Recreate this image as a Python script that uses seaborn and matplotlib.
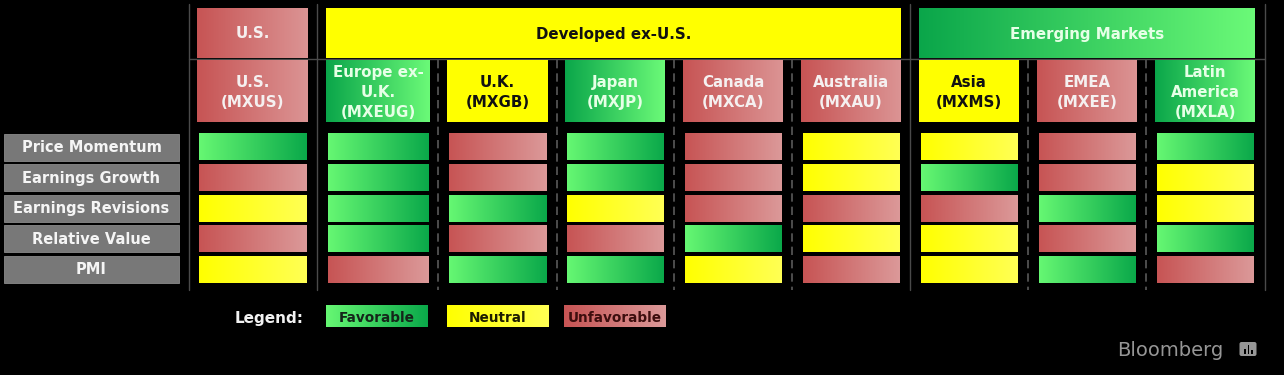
import numpy as np
import matplotlib
matplotlib.use("Agg")
import matplotlib.pyplot as plt
from matplotlib.patches import Rectangle, FancyBboxPatch
import seaborn as sns

# ---------------- data ----------------
groups = ["U.S.", "Developed ex-U.S.", "Emerging Markets"]
group_ratings = ["Unfavorable", "Neutral", "Favorable"]
markets = ["U.S.\n(MXUS)", "Europe ex-\nU.K.\n(MXEUG)", "U.K.\n(MXGB)", "Japan\n(MXJP)",
           "Canada\n(MXCA)", "Australia\n(MXAU)", "Asia\n(MXMS)", "EMEA\n(MXEE)",
           "Latin\nAmerica\n(MXLA)"]
market_group = [0, 1, 1, 1, 1, 1, 2, 2, 2]
market_ratings = ["Unfavorable", "Favorable", "Neutral", "Favorable", "Unfavorable",
                  "Unfavorable", "Neutral", "Unfavorable", "Favorable"]
factors = ["Price Momentum", "Earnings Growth", "Earnings Revisions", "Relative Value", "PMI"]
# F = Favorable, N = Neutral, U = Unfavorable ; one string per factor, one letter per market
price_momentum     = ["F", "F", "U", "F", "U", "N", "N", "U", "F"]
earnings_growth    = ["U", "F", "U", "F", "U", "N", "F", "U", "N"]
earnings_revisions = ["N", "F", "F", "N", "U", "U", "U", "F", "N"]
relative_value     = ["U", "F", "U", "U", "F", "N", "N", "U", "F"]
pmi                = ["N", "U", "F", "F", "N", "U", "N", "F", "U"]
legend_labels = ["Favorable", "Neutral", "Unfavorable"]

code_map = {"F": "Favorable", "N": "Neutral", "U": "Unfavorable"}
grid = [[code_map[c] for c in row] for row in
        [price_momentum, earnings_growth, earnings_revisions, relative_value, pmi]]

# ---------------- style ----------------
sns.set_theme(style="dark", rc={"axes.facecolor": "black", "figure.facecolor": "black"})
plt.rcParams["font.family"] = ["DejaVu Sans"]

W, H = 1284, 375
fig = plt.figure(figsize=(W / 100, H / 100), dpi=100)
ax = fig.add_axes([0, 0, 1, 1])
ax.set_facecolor("black")

# gradient endpoints (left, right)
body_grad = {
    "Favorable": ((0.40, 0.97, 0.45), (0.04, 0.66, 0.29)),
    "Neutral": ((1.0, 1.0, 0.0), (1.0, 1.0, 0.33)),
    "Unfavorable": ((0.78, 0.33, 0.33), (0.86, 0.60, 0.60)),
}
head_grad = {
    "Favorable": ((0.04, 0.65, 0.29), (0.42, 0.98, 0.47)),
    "Neutral": ((1.0, 1.0, 0.0), (1.0, 1.0, 0.0)),
    "Unfavorable": ((0.78, 0.33, 0.33), (0.86, 0.58, 0.58)),
}
head_text = {"Favorable": "#e6ffe6", "Neutral": "#111111", "Unfavorable": "#f5f0f0"}
legend_text = {"Favorable": "#15261a", "Neutral": "#1c1c00", "Unfavorable": "#3d0e0e"}


def grad_box(x0, x1, y0, y1, cols, z=2):
    n = 256
    t = np.linspace(0, 1, n)[None, :, None]
    a = np.array(cols[0])[None, None, :]
    b = np.array(cols[1])[None, None, :]
    img = a * (1 - t) + b * t
    img = np.repeat(img, 2, axis=0)
    ax.imshow(img, extent=(x0, x1, y1, y0), aspect="auto", interpolation="bilinear", zorder=z)


# ---------------- layout ----------------
col_left = [199, 328, 449, 567, 685, 803, 921, 1039, 1157]
col_right = [307, 429, 547, 664, 782, 900, 1018, 1136, 1254]
row_top0, row_pitch, row_h = 133.5, 30.6, 27
hdr1 = (8, 58)
hdr2 = (60, 122)

# separators
for x in [189, 317, 910, 1265]:
    ax.plot([x, x], [4, 290], color="#4a4a4a", lw=1.0, zorder=1)
for x in [438, 557, 674, 792, 1028, 1146]:
    ax.plot([x, x], [60, 290], color="#5a5a5a", lw=1.2, ls=(0, (5, 3)), zorder=1)
ax.plot([189, 1265], [59, 59], color="#4a4a4a", lw=1.0, zorder=1)

# group headers
for g, (name, rating) in enumerate(zip(groups, group_ratings)):
    members = [i for i, mg in enumerate(market_group) if mg == g]
    x0 = col_left[members[0]] - 2
    x1 = col_right[members[-1]] + 1
    grad_box(x0, x1, hdr1[0], hdr1[1], head_grad[rating])
    ax.text((x0 + x1) / 2, (hdr1[0] + hdr1[1]) / 2 + 1, name, ha="center", va="center",
            fontsize=10.8, fontweight="bold", color=head_text[rating], zorder=3)

# market headers
for i, (name, rating) in enumerate(zip(markets, market_ratings)):
    x0 = col_left[i] - 2
    x1 = col_right[i] + 1
    grad_box(x0, x1, hdr2[0], hdr2[1], head_grad[rating])
    ax.text((x0 + x1) / 2, (hdr2[0] + hdr2[1]) / 2 + 1.5, name, ha="center", va="center",
            fontsize=10.8, fontweight="bold", color=head_text[rating], linespacing=1.38,
            zorder=3)

# factor labels and body cells
for r, fac in enumerate(factors):
    y0 = row_top0 + r * row_pitch
    y1 = y0 + row_h
    ax.add_patch(Rectangle((4, y0), 175, row_h, facecolor="#787878", edgecolor="#8a8a8a",
                           lw=0.6, zorder=2))
    ax.text(91.5, (y0 + y1) / 2 + 0.5, fac, ha="center", va="center", fontsize=10.5,
            fontweight="bold", color="#f5f5f5", zorder=3)
    for c in range(len(markets)):
        grad_box(col_left[c], col_right[c], y0, y1, body_grad[grid[r][c]])

# legend
ax.text(269, 318, "Legend:", ha="center", va="center", fontsize=11, fontweight="bold",
        color="#f2f2f2", zorder=3)
leg_left = [326, 447, 564]
for lbl, lx in zip(legend_labels, leg_left):
    grad_box(lx, lx + 102, 306, 327.5, body_grad[lbl])
    ax.text(lx + 51, 317.5, lbl, ha="center", va="center", fontsize=9.8, fontweight="bold",
            color=legend_text[lbl], zorder=3)

# Bloomberg mark
ax.text(1117, 351, "Bloomberg", ha="left", va="center", fontsize=14, color="#969696", zorder=3)
ax.add_patch(FancyBboxPatch((1240, 342.5), 16, 13, boxstyle="round,pad=0.5,rounding_size=2",
                            facecolor="#969696", edgecolor="none", zorder=3))
for bx, bh in [(1244, 5), (1247.5, 9), (1251, 4)]:
    ax.add_patch(Rectangle((bx, 353.5 - bh), 1.8, bh, facecolor="black", edgecolor="none", zorder=4))

ax.set_xlim(0, W)
ax.set_ylim(H, 0)
ax.axis("off")
fig.savefig("out.png", dpi=100, facecolor="black")
